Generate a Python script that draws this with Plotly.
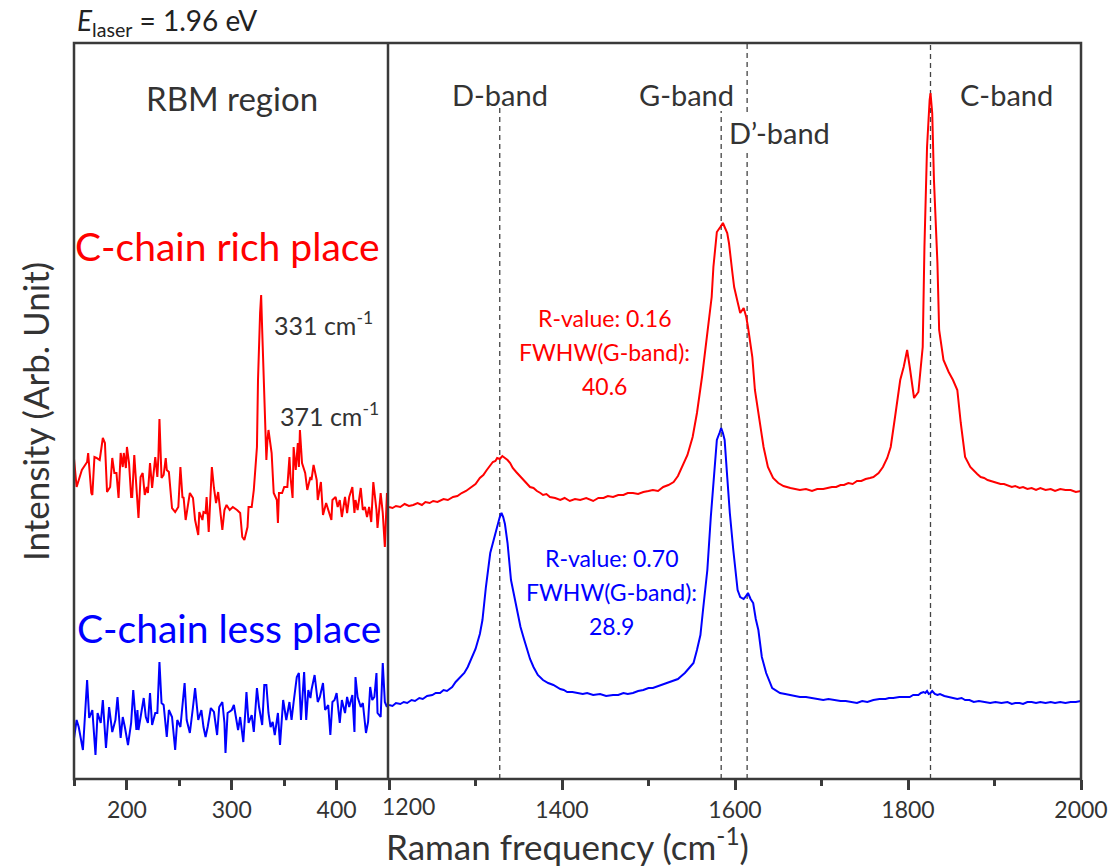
import plotly.graph_objects as go

# ---------------- data ----------------
# RBM region (left panel), Raman shift in cm-1, intensity in arb. units
RBM_RICH_X = [149,152,157,162,163,166,167,169,171,174,
              177,179,181,184,186,188,190,192,194,196,
              197,199,200,202,204,205,207,211,213,215,
              217,219,220,222,224,225,227,229,230,231,
              233,235,237,238,240,243,246,249,251,253,
              254,256,258,260,263,265,268,269,272,273,
              275,276,278,281,283,285,287,291,293,295,
              298,301,305,308,310,312,315,316,319,321,
              324,325,327,328,329,331,333,334,335,338,
              340,343,344,345,348,350,353,355,356,358,
              359,361,363,364,365,367,370,372,375,376,
              378,381,382,385,387,390,392,395,396,399,
              401,403,405,408,410,412,415,417,418,420,
              423,425,427,429,431,433,435,438,439,442,
              444,446,448]
RBM_RICH_Y = [326,292,309,317,326,286,284,322,321,319,
              341,336,287,292,321,306,306,281,326,312,
              326,311,332,316,282,282,324,261,302,306,
              284,292,286,316,291,302,322,302,322,360,
              301,304,321,309,307,271,267,272,312,281,
              282,259,272,286,281,259,244,267,259,267,
              266,282,247,312,291,276,287,249,269,274,
              269,272,269,266,242,239,252,272,272,289,
              332,399,466,484,449,372,319,339,349,326,
              286,279,256,286,286,292,292,322,302,281,
              332,309,336,312,349,316,306,289,302,299,
              314,299,279,297,264,276,269,259,279,282,
              272,279,262,282,266,282,292,266,279,269,
              291,269,272,262,272,257,297,269,251,286,
              266,232,286]

RBM_LESS_X = [149,152,154,158,162,164,167,170,172,175,
              177,180,183,186,189,191,194,196,198,201,
              204,206,209,210,211,214,216,218,220,222,
              224,227,229,231,233,235,238,240,243,246,
              248,251,252,255,257,260,263,265,268,271,
              273,275,277,280,283,286,288,291,293,294,
              296,300,302,306,308,311,313,314,316,319,
              321,324,326,329,331,333,335,337,339,341,
              344,346,349,352,355,357,359,362,364,366,
              369,371,373,375,376,379,382,384,387,389,
              392,394,396,398,400,403,405,408,410,412,
              415,417,418,420,423,425,428,430,432,434,
              436,438,439,442,444,446,448]
RBM_LESS_Y = [37,59,52,29,99,61,69,24,66,56,
              79,31,72,47,59,82,41,62,52,34,
              56,89,49,69,49,67,81,62,56,86,
              54,66,66,117,76,74,42,69,62,29,
              59,52,62,96,59,46,72,91,59,69,
              52,42,52,71,67,44,72,77,56,26,
              66,69,74,49,62,37,69,87,56,64,
              47,91,72,54,94,94,66,52,57,44,
              66,34,79,59,77,59,77,102,106,59,
              107,59,89,81,89,104,77,82,96,69,
              74,44,77,79,86,56,79,66,82,72,
              84,47,102,82,72,76,46,57,92,79,
              82,106,66,62,116,77,72]

# D / G / C band region (right panel)
BAND_RICH_X = [1200,1204,1208,1213,1218,1223,1228,1233,1238,1242,
               1247,1251,1256,1263,1268,1274,1279,1284,1289,1294,
               1300,1305,1309,1313,1317,1320,1323,1325,1328,1331,
               1334,1337,1340,1343,1347,1352,1357,1363,1367,1371,
               1375,1378,1382,1386,1392,1398,1403,1409,1415,1421,
               1428,1436,1442,1448,1453,1459,1465,1471,1476,1482,
               1488,1494,1500,1505,1511,1517,1523,1529,1534,1540,
               1545,1551,1556,1562,1568,1573,1575,1579,1583,1586,
               1591,1593,1597,1599,1603,1606,1610,1613,1615,1620,
               1623,1627,1633,1638,1644,1650,1656,1664,1670,1675,
               1682,1689,1695,1702,1707,1712,1717,1722,1726,1731,
               1736,1741,1746,1751,1756,1760,1766,1771,1776,1780,
               1785,1791,1795,1799,1802,1805,1807,1812,1817,1819,
               1822,1825,1826,1828,1830,1834,1836,1841,1847,1852,
               1857,1861,1866,1872,1876,1880,1884,1888,1892,1896,
               1899,1903,1907,1911,1915,1920,1924,1929,1933,1938,
               1943,1948,1953,1959,1965,1970,1976,1982,1988,1994,
               2000]
BAND_RICH_Y = [272,271,273,272,275,273,274,276,274,277,
               276,278,277,280,279,282,283,286,288,291,
               295,301,304,309,313,317,318,321,320,323,
               321,319,316,311,307,302,297,292,291,288,
               286,284,285,282,281,279,281,278,280,279,
               281,278,281,281,283,282,284,284,286,286,
               285,287,288,289,288,292,294,297,303,314,
               324,342,366,403,447,482,512,547,552,556,
               546,536,506,492,477,466,471,462,452,422,
               389,366,332,312,301,296,293,291,290,289,
               290,288,290,290,291,292,292,294,294,296,
               295,298,298,300,301,302,306,312,321,332,
               362,399,412,429,412,392,381,387,432,532,
               632,679,686,666,599,516,449,419,407,399,
               389,356,322,312,308,305,302,301,299,298,
               297,296,295,295,294,292,293,291,292,290,
               291,289,291,289,290,288,290,289,289,287,
               288]

BAND_LESS_X = [1200,1204,1208,1213,1217,1221,1226,1230,1235,1239,
               1244,1250,1254,1259,1263,1267,1270,1273,1277,1282,
               1287,1291,1294,1297,1300,1302,1305,1308,1312,1317,
               1320,1323,1325,1328,1330,1332,1334,1337,1341,1346,
               1349,1352,1356,1360,1363,1367,1372,1378,1384,1390,
               1394,1398,1402,1406,1412,1418,1424,1429,1436,1444,
               1451,1459,1465,1471,1476,1482,1488,1494,1500,1505,
               1511,1516,1521,1525,1530,1534,1538,1542,1547,1552,
               1556,1560,1563,1568,1572,1576,1579,1582,1584,1586,
               1588,1591,1594,1598,1603,1606,1610,1612,1615,1618,
               1621,1624,1627,1631,1636,1643,1648,1652,1658,1664,
               1670,1675,1682,1689,1695,1702,1708,1715,1722,1728,
               1735,1741,1747,1753,1760,1767,1774,1778,1783,1790,
               1797,1802,1806,1812,1815,1818,1820,1822,1824,1826,
               1828,1831,1834,1837,1842,1847,1852,1857,1862,1866,
               1871,1876,1882,1889,1895,1901,1908,1915,1920,1924,
               1929,1933,1938,1943,1948,1953,1959,1965,1970,1976,
               1982,1988,1994,2000]
BAND_LESS_Y = [74,73,76,75,77,76,79,78,81,80,
               83,84,86,86,89,88,90,92,97,101,
               106,112,118,124,130,136,145,159,192,226,
               236,246,252,262,266,262,255,236,199,179,
               165,152,140,129,120,112,104,99,96,94,
               92,90,89,87,87,86,85,86,84,85,
               83,84,84,86,85,86,88,89,91,91,
               93,94,96,97,99,100,103,106,111,116,
               129,144,169,209,262,312,339,346,351,346,
               339,302,266,229,189,182,180,182,186,180,
               176,160,149,122,106,91,88,86,85,84,
               83,82,82,81,80,79,80,79,78,78,
               77,76,78,77,79,80,80,81,81,82,
               82,82,84,84,86,87,86,88,85,86,
               88,85,84,85,83,82,81,80,81,79,
               79,77,78,77,76,77,76,77,75,76,
               76,75,77,77,76,77,76,77,76,77,
               76,77,77,78]

BAND_NAMES = ["D-band", "G-band", "D\u2019-band", "C-band"]
BAND_POS = [1328, 1584, 1614, 1826]

LEFT_TICKS = [200, 300, 400]
RIGHT_TICKS = [1200, 1400, 1600, 1800, 2000]

# ---------------- layout helpers ----------------
W, H = 1111, 867
L, R, T, B = 74, 1081, 43, 779
SPLIT = 388
D = (SPLIT - L) / (R - L)
FONT = "Lato, 'Open Sans', sans-serif"
DARK = "#3a3a3a"
TXT = "#333333"
RED = "#ff0000"
BLUE = "#0000ff"


def px(x):
    return (x - L) / (R - L)


def py(y):
    return (B - y) / (B - T)


fig = go.Figure()
fig.add_trace(go.Scatter(x=RBM_RICH_X, y=RBM_RICH_Y, mode="lines",
                         line=dict(color=RED, width=2), xaxis="x", yaxis="y",
                         showlegend=False))
fig.add_trace(go.Scatter(x=RBM_LESS_X, y=RBM_LESS_Y, mode="lines",
                         line=dict(color=BLUE, width=2), xaxis="x", yaxis="y",
                         showlegend=False))
fig.add_trace(go.Scatter(x=BAND_RICH_X, y=BAND_RICH_Y, mode="lines",
                         line=dict(color=RED, width=2), xaxis="x2", yaxis="y",
                         showlegend=False))
fig.add_trace(go.Scatter(x=BAND_LESS_X, y=BAND_LESS_Y, mode="lines",
                         line=dict(color=BLUE, width=2), xaxis="x2", yaxis="y",
                         showlegend=False))

shapes = []
# dashed band markers (top ends leave room for band labels)
dash_segments = {
    0: [(0, py(108))],
    1: [(0, py(111))],
    2: [(0, py(153)), (py(112), 1)],
    3: [(0, 1)],
}
for i, pos in enumerate(BAND_POS):
    for y0, y1 in dash_segments[i]:
        shapes.append(dict(type="line", xref="x2", yref="paper", x0=pos, x1=pos,
                           y0=y0, y1=y1, layer="below",
                           line=dict(color="#444444", width=1.3, dash="5px,4px")))
# frame and divider
shapes.append(dict(type="rect", xref="paper", yref="paper", x0=0, x1=1, y0=0, y1=1,
                   line=dict(color=DARK, width=2.5)))
shapes.append(dict(type="line", xref="paper", yref="paper", x0=D, x1=D, y0=0, y1=1,
                   line=dict(color=DARK, width=2.5)))

axis_common = dict(showgrid=False, zeroline=False, showline=False, automargin=False,
                   ticks="outside", ticklen=10, tickwidth=2.5, tickcolor=DARK,
                   tickfont=dict(family=FONT, size=23, color=TXT))

fig.update_layout(
    width=W, height=H,
    margin=dict(l=L, r=W - R, t=T, b=H - B, autoexpand=False),
    paper_bgcolor="white", plot_bgcolor="white",
    xaxis=dict(domain=[0, D], range=[149.5, 449], tickvals=LEFT_TICKS,
               minor=dict(ticks="outside", ticklen=6, tickwidth=2.5,
                          tickcolor=DARK, dtick=50, tick0=0),
               anchor="y", **axis_common),
    xaxis2=dict(domain=[D, 1], range=[1198.8, 2000], tickvals=RIGHT_TICKS,
                ticktext=["" if v == 1200 else str(v) for v in RIGHT_TICKS],
                minor=dict(ticks="outside", ticklen=6, tickwidth=2.5,
                           tickcolor=DARK, dtick=100, tick0=0),
                anchor="y", **axis_common),
    yaxis=dict(range=[0, 736], showticklabels=False, ticks="", showgrid=False,
               zeroline=False, showline=False, automargin=False),
    shapes=shapes,
)

ann = []


def add(text, x, y, size, color=TXT, xanchor="center", angle=0):
    ann.append(dict(text=text, x=px(x), y=py(y), xref="paper", yref="paper",
                    showarrow=False, xanchor=xanchor, yanchor="middle",
                    textangle=angle,
                    font=dict(family=FONT, size=size, color=color)))


add("<i>E</i><sub>laser</sub> = 1.96 eV", 75, 22, 28, "#222222", xanchor="left")
add("RBM region", 232, 98, 33)
add(BAND_NAMES[0], 500, 95, 29)
add(BAND_NAMES[1], 686, 95, 29)
add(BAND_NAMES[2], 779, 132, 29)
add(BAND_NAMES[3], 1006, 95, 29)
add("C-chain rich place", 227, 246, 39, RED)
add("C-chain less place", 229, 628, 39, BLUE)
add("331 cm<sup>-1</sup>", 272, 323, 25, xanchor="left")
add("371 cm<sup>-1</sup>", 278, 414, 25, xanchor="left")
add("R-value: 0.16", 604, 318, 23, RED)
add("FWHW(G-band):", 604, 352, 23, RED)
add("40.6", 604, 386, 23, RED)
add("R-value: 0.70", 611, 558, 23, BLUE)
add("FWHW(G-band):", 611, 592, 23, BLUE)
add("28.9", 611, 626, 23, BLUE)
add("1200", 408, 806, 23)
add("Raman frequency (cm<sup>-1</sup>)", 567, 844, 35)
add("Intensity (Arb. Unit)", 35, 412, 35, angle=-90)

fig.update_layout(annotations=ann)
fig.write_html("out.html")
